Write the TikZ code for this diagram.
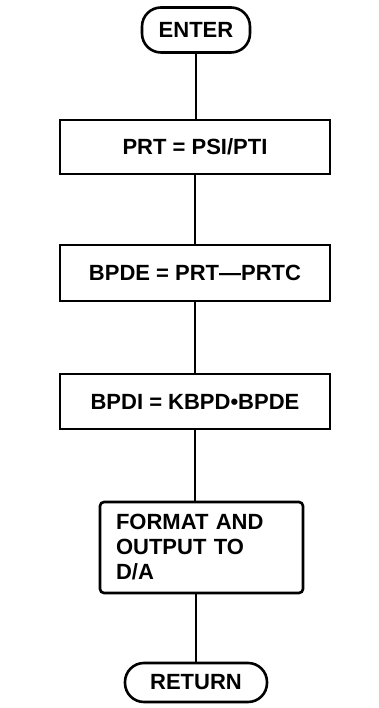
\documentclass[tikz,border=0pt]{standalone}
\usepackage{fontspec}
\setmainfont{Liberation Sans}
\begin{document}
\begin{tikzpicture}[x=1pt,y=1pt,
  every node/.style={font=\bfseries\fontsize{22}{25}\selectfont},
  term/.style={draw, line width=2.6pt, rounded corners=19pt, inner sep=0pt},
  proc/.style={draw, line width=2.6pt, inner sep=0pt, minimum width=270pt},
  link/.style={line width=2.6pt}]
\useasboundingbox (0,0) rectangle (378,708);
\node[term, minimum width=108pt, minimum height=45pt] (enter) at (196,678) {ENTER};
\node[proc, minimum height=54pt] (b1) at (195,561) {PRT = PSI/PTI};
\node[proc, minimum height=56pt] (b2) at (195,435) {BPDE = PRT---PRTC};
\node[proc, minimum height=55pt] (b3) at (195,306.5) {BPDI = KBPD•BPDE};
\node[draw, line width=2.6pt, rounded corners=4pt, minimum width=203pt, minimum height=91pt,
      text width=171pt, inner xsep=16pt, inner ysep=0pt, align=left] (b4) at (201.5,160.5)
      {FORMAT AND\\OUTPUT TO\\D/A};
\node[term, minimum width=142pt, minimum height=39pt] (ret) at (196,25.5) {RETURN};
\draw[link] (enter.south) -- (enter.south |- b1.north);
\draw[link] (b1.south) -- (b2.north);
\draw[link] (b2.south) -- (b3.north);
\draw[link] (b3.south) -- (b3.south |- b4.north);
\draw[link] (ret.north |- b4.south) -- (ret.north);
\end{tikzpicture}
\end{document}
